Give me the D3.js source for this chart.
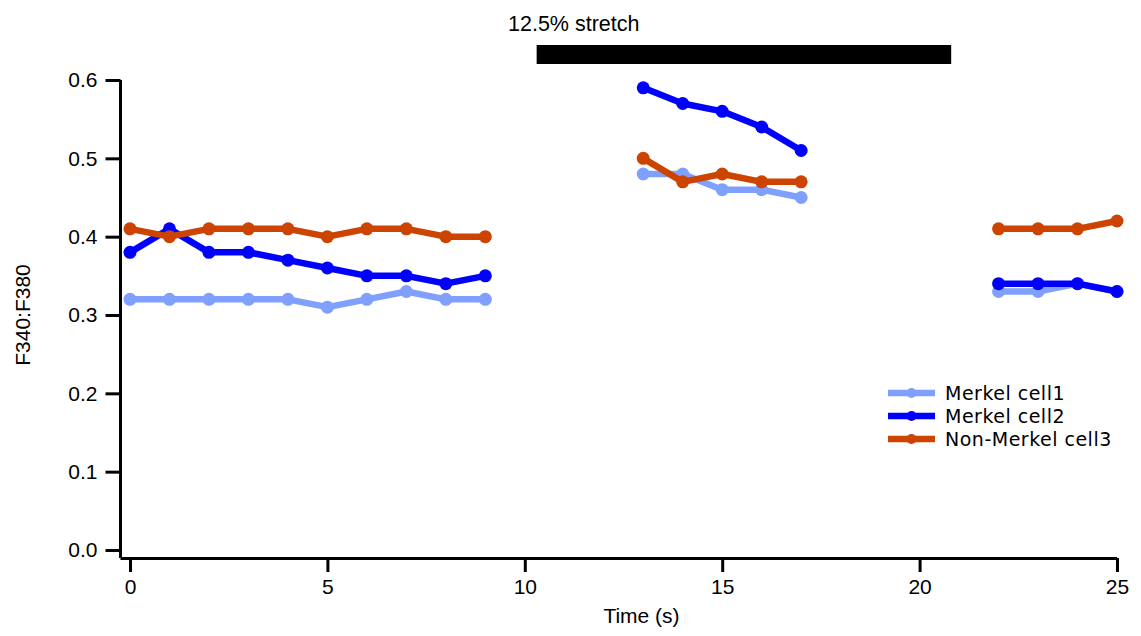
<!DOCTYPE html>
<html>
<head>
<meta charset="utf-8">
<script src="https://cdn.jsdelivr.net/npm/d3@7"></script>
<style>
  body { margin: 0; background: #fff; }
  svg { display: block; }
</style>
</head>
<body>
<svg id="chart" width="1141" height="636"></svg>
<script>
// time points (s); null = no recording
const times = d3.range(0, 26)
const cell1 = [0.32,0.32,0.32,0.32,0.32,0.31,0.32,0.33,0.32,0.32, null,null,null, 0.48,0.48,0.46,0.46,0.45, null,null,null,null, 0.33,0.33,0.34,0.33]
const cell2 = [0.38,0.41,0.38,0.38,0.37,0.36,0.35,0.35,0.34,0.35, null,null,null, 0.59,0.57,0.56,0.54,0.51, null,null,null,null, 0.34,0.34,0.34,0.33]
const cell3 = [0.41,0.40,0.41,0.41,0.41,0.40,0.41,0.41,0.40,0.40, null,null,null, 0.50,0.47,0.48,0.47,0.47, null,null,null,null, 0.41,0.41,0.41,0.42]
const seriesNames = ['Merkel cell1', 'Merkel cell2', 'Non-Merkel cell3']
const seriesColors = ['#80a0ff', '#0000ff', '#cc4400']
const xTicks = [0, 5, 10, 15, 20, 25]
const yTicks = [0, 0.1, 0.2, 0.3, 0.4, 0.5, 0.6]
const stretch = [10.3, 20.8]

let svg = d3.select('#chart')
let x = d3.scaleLinear().domain([0, 25]).range([130, 1117])
let y = d3.scaleLinear().domain([0, 0.6]).range([550, 80])

let axisFont = '"Liberation Sans", Arial, sans-serif'
let fs = 21

// x axis
let xg = svg.append('g').attr('transform', 'translate(0,558)')
xg.call(d3.axisBottom(x).tickValues(xTicks).tickFormat(d3.format('d')).tickSize(14).tickPadding(7).tickSizeOuter(0))
xg.select('.domain').attr('d', `M120.5,0.5H${x(25)}`)
xg.selectAll('line, path').attr('stroke', '#000').attr('stroke-width', 3)
xg.selectAll('text').attr('font-family', axisFont).attr('font-size', fs).attr('fill', '#000')

// y axis
let yg = svg.append('g').attr('transform', 'translate(120.5,0)')
yg.call(d3.axisLeft(y).tickValues(yTicks).tickFormat(d3.format('.1f')).tickSize(15).tickPadding(8).tickSizeOuter(0))
yg.select('.domain').attr('d', `M0,${y(0.6)}V558`)
yg.selectAll('line, path').attr('stroke', '#000').attr('stroke-width', 3)
yg.selectAll('text').attr('font-family', axisFont).attr('font-size', fs).attr('fill', '#000')

svg.append('text')
  .attr('transform', `translate(30,${(y(0.6) + 550) / 2}) rotate(-90)`)
  .attr('text-anchor', 'middle')
  .attr('font-family', axisFont).attr('font-size', fs)
  .text('F340:F380')

svg.append('text')
  .attr('x', (x(0) + x(25)) / 2 + 18).attr('y', 623)
  .attr('text-anchor', 'middle')
  .attr('font-family', axisFont).attr('font-size', fs)
  .text('Time (s)')

// stretch bar
svg.append('rect')
  .attr('x', x(stretch[0])).attr('y', 45)
  .attr('width', x(stretch[1]) - x(stretch[0])).attr('height', 19)
  .attr('fill', '#000')
svg.append('text')
  .attr('x', 508).attr('y', 31)
  .attr('font-family', axisFont).attr('font-size', 21.5)
  .text('12.5% stretch')

// series
let allSeries = [cell1, cell2, cell3]
let line = d3.line()
  .defined(d => d.v !== null)
  .x(d => x(d.t))
  .y(d => y(d.v))

allSeries.forEach((vals, i) => {
  let pts = times.map((t, j) => ({ t, v: vals[j] }))
  svg.append('path')
    .datum(pts)
    .attr('d', line)
    .attr('fill', 'none')
    .attr('stroke', seriesColors[i])
    .attr('stroke-width', 6.5)
    .attr('stroke-linejoin', 'round')
  svg.append('g').selectAll('circle')
    .data(pts.filter(d => d.v !== null))
    .enter().append('circle')
    .attr('cx', d => x(d.t))
    .attr('cy', d => y(d.v))
    .attr('r', 6.5)
    .attr('fill', seriesColors[i])
})

// legend
let legend = svg.append('g').attr('transform', 'translate(888,393)')
seriesNames.forEach((name, i) => {
  let g = legend.append('g').attr('transform', `translate(0,${i * 23})`)
  g.append('line').attr('x1', 0).attr('x2', 47).attr('y1', 0).attr('y2', 0)
    .attr('stroke', seriesColors[i]).attr('stroke-width', 6.5)
  g.append('circle').attr('cx', 23.5).attr('cy', 0).attr('r', 5).attr('fill', seriesColors[i])
  g.append('text').attr('x', 57).attr('y', 6.5)
    .attr('font-family', '"DejaVu Sans", Verdana, sans-serif').attr('font-size', 19)
    .attr('letter-spacing', 0.5)
    .text(name)
})
</script>
</body>
</html>
